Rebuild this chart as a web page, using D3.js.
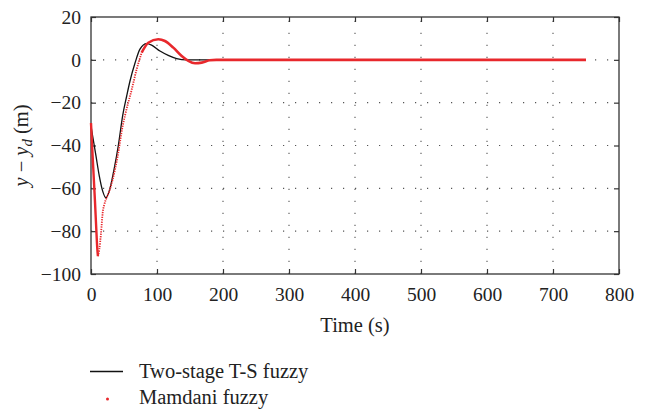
<!DOCTYPE html>
<html>
<head>
<meta charset="utf-8">
<script src="https://cdn.jsdelivr.net/npm/d3@7"></script>
<style>
  body { margin: 0; background: #fff; }
  text { font-family: "Liberation Serif", "Times New Roman", serif; fill: #222; }
</style>
</head>
<body>
<div id="chart"></div>
<script>
// time (s), y - yd (m)
const tsFuzzy = [
  [0, -31], [2.5, -35.6], [7.6, -45], [12.6, -54.3], [17.7, -61.3], [22.7, -64.4],
  [28.8, -60], [35, -51], [41.4, -40], [48, -26], [54, -17], [59, -10], [66.7, -1.5],
  [74.2, 5], [84.3, 7.6], [91.9, 6.9], [104.5, 4.1], [117, 2.1], [129.8, 0.6],
  [145, 0], [750, 0]
];
const mamdani = [
  [0, -29.5], [2, -42], [4, -54], [6, -66], [8, -79], [9.5, -88], [10.5, -91.7],
  [12.6, -88.5], [15.2, -80.8], [17.7, -71.4], [20.2, -67.5], [23.7, -64.4], [27.8, -61.3],
  [32.9, -55.8], [40.4, -45], [47.9, -31], [51.5, -26], [61.6, -14], [69.2, -4.4],
  [76.8, 3.4], [86.8, 8], [102, 9.6], [112, 8.8], [124.7, 5.7], [137.4, 1.8],
  [147.5, -0.5], [157.6, -1.6], [167.7, -1.3], [180, -0.2], [190, 0], [750, 0]
];
const xTicks = [0, 100, 200, 300, 400, 500, 600, 700, 800];
const yTicks = [20, 0, -20, -40, -60, -80, -100];
const legendLabels = ['Two-stage T-S fuzzy', 'Mamdani fuzzy'];

const W = 653, H = 411;
const L = 91, R = 619, T = 17, B = 274;

const svg = d3.select('#chart').append('svg')
  .attr('width', W).attr('height', H);

const x = d3.scaleLinear().domain([0, 800]).range([L, R]);
const y = d3.scaleLinear().domain([-100, 20]).range([B, T]);

// dotted grid
const grid = svg.append('g')
  .attr('stroke', '#555').attr('stroke-width', 1.1).attr('stroke-dasharray', '1.2,10.8');
grid.selectAll('.gx').data(xTicks.slice(1, -1)).enter().append('line')
  .attr('x1', d => x(d)).attr('x2', d => x(d)).attr('y1', B).attr('y2', T);
grid.selectAll('.gy').data(yTicks.slice(1, -1)).enter().append('line')
  .attr('y1', d => y(d)).attr('y2', d => y(d)).attr('x1', L).attr('x2', R);

// axes, inward ticks
const fs = 19.5, fsT = 20.5;
const axB = svg.append('g').attr('transform', `translate(0,${B})`)
  .call(d3.axisBottom(x).tickValues(xTicks).tickSize(-5).tickPadding(13));
const axL = svg.append('g').attr('transform', `translate(${L},0)`)
  .call(d3.axisLeft(y).tickValues(yTicks).tickSize(-5).tickPadding(10)
    .tickFormat(d => d < 0 ? '\u2212' + Math.abs(d) : d));
const axT = svg.append('g').attr('transform', `translate(0,${T})`)
  .call(d3.axisTop(x).tickValues(xTicks).tickSize(-5).tickFormat(''));
const axR = svg.append('g').attr('transform', `translate(${R},0)`)
  .call(d3.axisRight(y).tickValues(yTicks).tickSize(-5).tickFormat(''));
[axB, axL, axT, axR].forEach(a => {
  a.select('.domain').remove();
  a.selectAll('line').attr('stroke', '#333').attr('stroke-width', 1.2);
  a.selectAll('text').attr('font-size', fs).attr('fill', '#222');
});

svg.append('rect')
  .attr('x', L).attr('y', T).attr('width', R - L).attr('height', B - T)
  .attr('fill', 'none').attr('stroke', '#333').attr('stroke-width', 1.3);

// curves
const line = d3.line().x(d => x(d[0])).y(d => y(d[1])).curve(d3.curveMonotoneX);

svg.append('path').datum(tsFuzzy)
  .attr('d', line).attr('fill', 'none').attr('stroke', '#111').attr('stroke-width', 1.3);

const red = '#e8282c';
const redA = mamdani.filter(d => d[0] <= 10.5);
const redB = mamdani.filter(d => d[0] >= 10.5 && d[0] <= 76.8);
const redC = mamdani.filter(d => d[0] >= 76.8);
svg.append('path').datum(redA)
  .attr('d', line).attr('fill', 'none').attr('stroke', red).attr('stroke-width', 2.4);
svg.append('path').datum(redB)
  .attr('d', line).attr('fill', 'none').attr('stroke', red).attr('stroke-width', 1.8)
  .attr('stroke-dasharray', '1.3,1.1');
svg.append('path').datum(redC)
  .attr('d', line).attr('fill', 'none').attr('stroke', red).attr('stroke-width', 2.6);

// axis titles
svg.append('text')
  .attr('x', (L + R) / 2).attr('y', 332)
  .attr('text-anchor', 'middle').attr('font-size', fsT)
  .text('Time (s)');

const yl = svg.append('text')
  .attr('transform', `translate(28,${(T + B) / 2}) rotate(-90)`)
  .attr('text-anchor', 'middle').attr('font-size', fsT);
yl.append('tspan').attr('font-style', 'italic').text('y');
yl.append('tspan').text(' \u2212 ');
yl.append('tspan').attr('font-style', 'italic').text('y');
yl.append('tspan').attr('font-style', 'italic').attr('font-size', fsT * 0.72).attr('dy', 4).text('d');
yl.append('tspan').attr('dy', -4).text(' (m)');

// legend
const lg = svg.append('g');
lg.append('line').attr('x1', 90).attr('x2', 123).attr('y1', 371.5).attr('y2', 371.5)
  .attr('stroke', '#111').attr('stroke-width', 1.3);
lg.append('circle').attr('cx', 107.5).attr('cy', 399).attr('r', 1.5).attr('fill', red);
lg.selectAll('.lt').data(legendLabels).enter().append('text')
  .attr('x', 139).attr('y', (d, i) => 377.5 + i * 26)
  .attr('font-size', fsT).text(d => d);
</script>
</body>
</html>
